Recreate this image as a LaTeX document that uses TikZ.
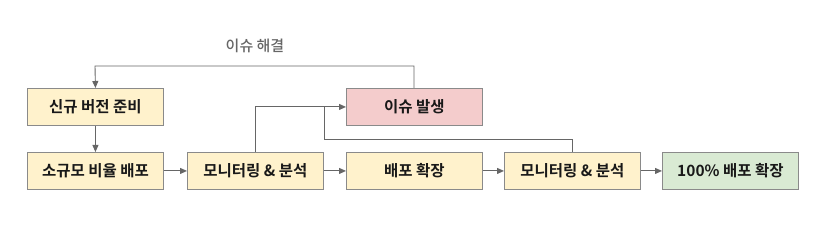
\documentclass[tikz,border=0pt]{standalone}
\usepackage{fontspec}
\setmainfont{Noto Sans CJK KR}[BoldFont={Noto Sans CJK KR Bold}]
\newfontfamily\labelfont{Noto Sans CJK KR Medium}
\usetikzlibrary{arrows.meta}
\definecolor{boxline}{HTML}{8A8A8A}
\definecolor{arrowc}{HTML}{666666}
\definecolor{yfill}{HTML}{FFF2CC}
\definecolor{rfill}{HTML}{F4CCCC}
\definecolor{gfill}{HTML}{D9EAD3}
\tikzset{
  flowbox/.style={draw=boxline, line width=0.9pt, minimum width=136pt, minimum height=37pt, inner sep=0pt,
    font=\fontsize{15.5pt}{18pt}\selectfont\bfseries, text=black!90, anchor=north west},
  conn/.style={draw=arrowc, line width=0.9pt},
  arr/.style={conn, -{Triangle[length=7pt,width=6pt]}},
}
\begin{document}
\begin{tikzpicture}[x=1pt,y=-1pt]
\useasboundingbox (0,0) rectangle (828,248);
\node[flowbox, fill=yfill] (prep) at (27,88) {신규 버전 준비};
\node[flowbox, fill=rfill] (issue) at (346,88) {이슈 발생};
\node[flowbox, fill=yfill] (small) at (27,152) {소규모 비율 배포};
\node[flowbox, fill=yfill] (mon1) at (187,152) {모니터링 \& 분석};
\node[flowbox, fill=yfill] (expand) at (346,152) {배포 확장};
\node[flowbox, fill=yfill] (mon2) at (504,152) {모니터링 \& 분석};
\node[flowbox, fill=gfill] (full) at (662,152) {100\% 배포 확장};
\coordinate (j1) at (324,107);
\coordinate (tl) at (95,66);
\coordinate (tr) at (414,66);
\node[font=\labelfont\fontsize{15pt}{17pt}\selectfont, text=arrowc] (lbl) at (255,46) {이슈 해결};
\draw[arr] (prep) -- (small);
\draw[arr] (small) -- (mon1);
\draw[arr] (mon1) -- (expand);
\draw[arr] (expand) -- (mon2);
\draw[arr] (mon2) -- (full);
\draw[arr] (mon1.north) |- (issue.west);
\draw[conn] (mon2.north) |- (324,139) -- (j1);
\draw[arr] (issue.north -| tr) -- (tr) -- (tl) -- (prep.north);
\end{tikzpicture}
\end{document}
